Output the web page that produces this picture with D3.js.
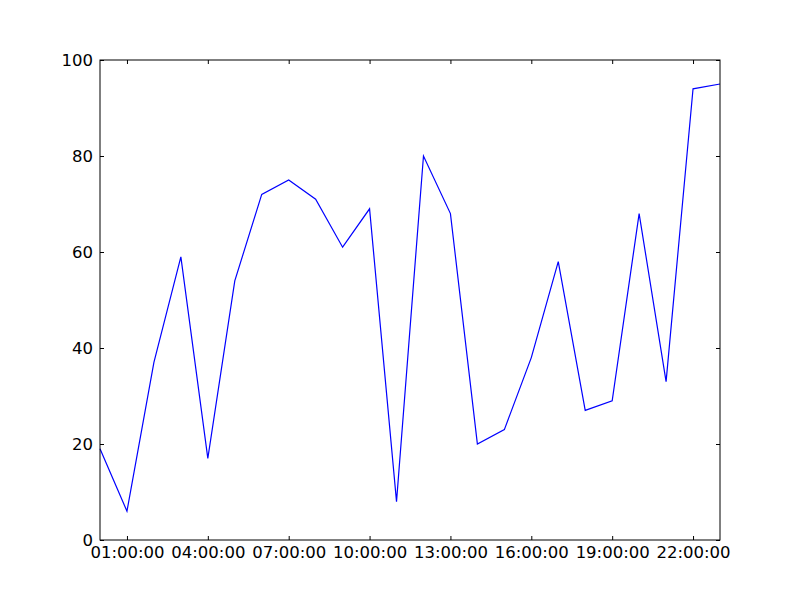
<!DOCTYPE html>
<html>
<head>
<meta charset="utf-8">
<script src="https://cdn.jsdelivr.net/npm/d3@7"></script>
<style>
  body { margin: 0; background: #fff; }
  svg { display: block; }
  .tick text { font-family: "DejaVu Sans", sans-serif; font-size: 16.5px; fill: #000; }
</style>
</head>
<body>
<script>
// hourly readings, 00:00 .. 23:00
var hours = d3.range(0, 24);
var values = [19, 6, 37, 59, 17, 54, 72, 75, 71, 61, 69, 8, 80, 68, 20, 23, 38, 58, 27, 29, 68, 33, 94, 95];
var xTickHours = [1, 4, 7, 10, 13, 16, 19, 22];
var yTicks = [0, 20, 40, 60, 80, 100];

(function(){
	"use strict";

	var width = 800, height = 600;
	var plotLeft = 100, plotRight = 720, plotTop = 60, plotBottom = 540;
	var tickLen = 4;

	var day = new Date(2000, 0, 1);
	function hourDate(h) { return d3.timeHour.offset(day, h); }

	var x = d3.scaleTime()
		.domain([hourDate(0), hourDate(23)])
		.range([plotLeft, plotRight]);
	var y = d3.scaleLinear()
		.domain([0, 100])
		.range([plotBottom, plotTop]);

	var svg = d3.select("body").append("svg")
		.attr("width", width)
		.attr("height", height);

	var line = d3.line()
		.x(function(d, i){ return x(hourDate(hours[i])); })
		.y(function(d){ return y(d); });

	svg.append("path")
		.datum(values)
		.attr("fill", "none")
		.attr("stroke", "#0000ff")
		.attr("stroke-width", 1.2)
		.attr("d", line);

	var fmt = d3.timeFormat("%H:%M:%S");
	var xTicks = xTickHours.map(hourDate);

	// bottom axis: labels + inward ticks
	svg.append("g")
		.attr("transform", "translate(0," + plotBottom + ")")
		.call(d3.axisBottom(x).tickValues(xTicks).tickFormat(fmt).tickSizeInner(-tickLen).tickSizeOuter(0).tickPadding(6));
	// top axis, ticks only
	svg.append("g")
		.attr("transform", "translate(0," + plotTop + ")")
		.call(d3.axisTop(x).tickValues(xTicks).tickFormat("").tickSizeInner(-tickLen).tickSizeOuter(0));

	svg.append("g")
		.attr("transform", "translate(" + plotLeft + ",0)")
		.call(d3.axisLeft(y).tickValues(yTicks).tickSizeInner(-tickLen).tickSizeOuter(0).tickPadding(7));
	svg.append("g")
		.attr("transform", "translate(" + plotRight + ",0)")
		.call(d3.axisRight(y).tickValues(yTicks).tickFormat("").tickSizeInner(-tickLen).tickSizeOuter(0));

	svg.selectAll(".domain").remove();
	svg.selectAll(".tick line").attr("stroke", "#000").attr("stroke-width", 1);

	// frame
	svg.append("rect")
		.attr("x", plotLeft).attr("y", plotTop)
		.attr("width", plotRight - plotLeft).attr("height", plotBottom - plotTop)
		.attr("fill", "none")
		.attr("stroke", "#000")
		.attr("stroke-width", 1);
})();
</script>
</body>
</html>
